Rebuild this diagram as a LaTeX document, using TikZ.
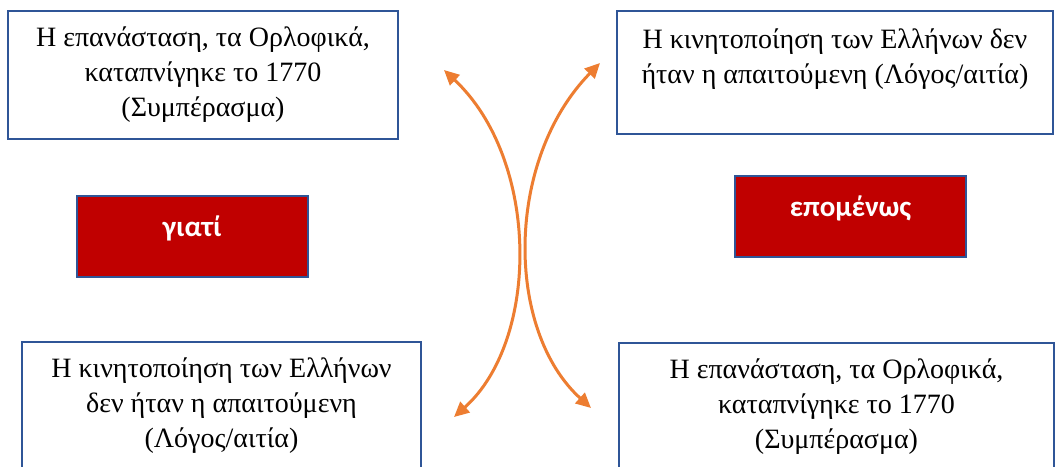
\documentclass[tikz,border=0pt]{standalone}
\usepackage{fontspec}
\setmainfont{Liberation Serif}
\newfontfamily\calib{Carlito}
\usetikzlibrary{arrows.meta}
\definecolor{boxblue}{HTML}{2F5597}
\definecolor{darkred}{HTML}{C00000}
\definecolor{arrorange}{HTML}{ED7D31}
\begin{document}
\begin{tikzpicture}[x=1pt,y=-1pt,
  textbox/.style={draw=boxblue, line width=2.2pt, fill=white, align=center,
    font=\fontsize{28}{35}\selectfont, inner sep=0pt},
  redbox/.style={draw=boxblue, line width=2pt, fill=darkred, text=white,
    font=\calib\bfseries\fontsize{29}{32}\selectfont, inner sep=0pt,
    minimum width=231pt, minimum height=81pt, text height=12pt, text depth=12pt},
  curvearrow/.style={draw=arrorange, line width=3pt,
    {Triangle[length=15pt,width=14pt]}-{Triangle[length=15pt,width=14pt]}}]
\clip (0,0) rectangle (1057,466);
\fill[white] (0,0) rectangle (1057,466);

\node[textbox, minimum width=390pt, minimum height=128pt] (tl) at (203,75)
  {Η επανάσταση, τα Ορλοφικά,\\ καταπνίγηκε το 1770\\ (Συμπέρασμα)};
\node[textbox, minimum width=436pt, minimum height=123pt] (tr) at (835,72.5)
  {Η κινητοποίηση των Ελλήνων δεν\\ ήταν η απαιτούμενη (Λόγος/αιτία)\rule[-33pt]{0pt}{33pt}};
\node[redbox] (why) at (192,236) {γιατί};
\node[redbox] (so) at (850.5,216.5) {επομένως};
\node[textbox, minimum width=399pt, minimum height=128pt] (bl) at (221.5,406)
  {Η κινητοποίηση των Ελλήνων\\ δεν ήταν η απαιτούμενη\\ (Λόγος/αιτία)};
\node[textbox, minimum width=435pt, minimum height=128pt] (br) at (836.5,407)
  {Η επανάσταση, τα Ορλοφικά,\\ καταπνίγηκε το 1770\\ (Συμπέρασμα)};

\coordinate (l1) at (444,70);
\coordinate (l2) at (454,417);
\coordinate (r1) at (600,63);
\coordinate (r2) at (591,408);
\draw[curvearrow] (l1) .. controls (540,160) and (540,340) .. (l2);
\draw[curvearrow] (r1) .. controls (505,160) and (505,330) .. (r2);
\end{tikzpicture}
\end{document}
